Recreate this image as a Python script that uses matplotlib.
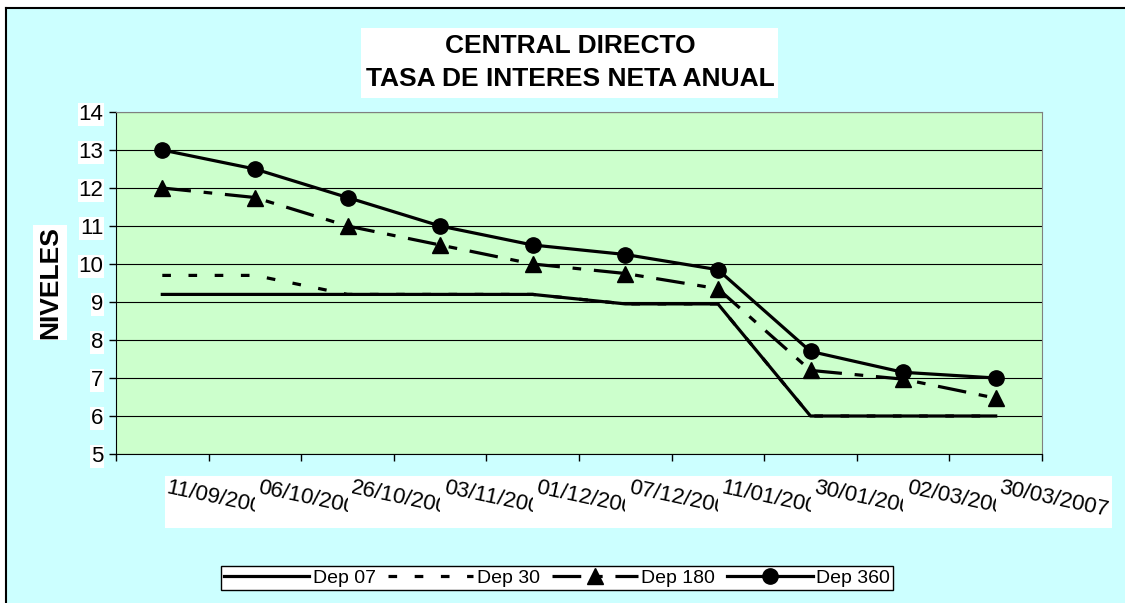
import matplotlib
matplotlib.use("Agg")
import matplotlib.pyplot as plt
import matplotlib.transforms as mtransforms
from matplotlib.patches import Rectangle
from matplotlib.lines import Line2D

plt.rcParams['font.family'] = ['Liberation Sans', 'DejaVu Sans']

# Fechas de las tasas y niveles de cada deposito
fechas = ['11/09/2006', '06/10/2006', '26/10/2006', '03/11/2006', '01/12/2006',
          '07/12/2006', '11/01/2007', '30/01/2007', '02/03/2007', '30/03/2007']
dep_07 = [9.2, 9.2, 9.2, 9.2, 9.2, 8.95, 8.95, 6.0, 6.0, 6.0]
dep_30 = [9.7, 9.7, 9.2, 9.2, 9.2, 8.95, 8.95, 6.0, 6.0, 6.0]
dep_180 = [12.0, 11.75, 11.0, 10.5, 10.0, 9.75, 9.35, 7.2, 6.97, 6.47]
dep_360 = [13.0, 12.5, 11.75, 11.0, 10.5, 10.25, 9.85, 7.7, 7.15, 7.0]

W, H = 1125, 603
fig = plt.figure(figsize=(W / 100, H / 100), dpi=100)
fig.patch.set_facecolor('white')

def fx(px):
    return px / W

def fy(py):
    return 1 - py / H

# fondo celeste con borde arriba e izquierda
fig.patches.append(Rectangle((fx(6), 0), 1, fy(8), transform=fig.transFigure,
                             facecolor='#CCFFFF', edgecolor='none', zorder=-5))
fig.lines.append(Line2D([fx(6), 1], [fy(8), fy(8)], transform=fig.transFigure,
                        color='black', lw=1.5, zorder=-4))
fig.lines.append(Line2D([fx(6), fx(6)], [0, fy(8)], transform=fig.transFigure,
                        color='black', lw=1.5, zorder=-4))

ax = fig.add_axes([fx(116), fy(454), fx(1042 - 116), (454 - 112) / H])
ax.set_facecolor('#CCFFCC')

x = list(range(len(fechas)))
lw = 2.3
ax.plot(x, dep_07, color='black', lw=lw, label='Dep 07', zorder=3)
ax.plot(x, dep_30, color='black', lw=lw, linestyle=(0, (2.7, 5.5)), label='Dep 30', zorder=3)
ax.plot(x, dep_180, color='black', lw=lw, linestyle=(0, (9, 4, 2.7, 4)),
        marker='^', markersize=11, label='Dep 180', zorder=4)
ax.plot(x, dep_360, color='black', lw=lw, marker='o', markersize=11,
        label='Dep 360', zorder=5)

ax.set_xlim(-0.5, len(fechas) - 0.5)
ax.set_ylim(5, 14)
ax.set_yticks(range(5, 15))
ax.yaxis.grid(True, color='black', lw=0.8)
ax.set_axisbelow(True)
ax.set_xticks([i - 0.5 for i in range(len(fechas) + 1)])
ax.set_xticklabels([])
ax.tick_params(axis='x', direction='out', length=5, width=1)
ax.tick_params(axis='y', direction='out', length=5, width=1, labelsize=16, pad=4)
for lab in ax.get_yticklabels():
    lab.set_bbox(dict(facecolor='white', edgecolor='none', pad=0.5))
for s in ['top', 'right']:
    ax.spines[s].set_color('#808080')
for s in ['left', 'bottom']:
    ax.spines[s].set_color('black')

# franja blanca detras de las fechas
fig.patches.append(Rectangle((fx(165), fy(528)), fx(1112 - 165), (528 - 476) / H,
                             transform=fig.transFigure, facecolor='white',
                             edgecolor='none', zorder=1))
blend = mtransforms.blended_transform_factory(ax.transData, fig.transFigure)
shift = mtransforms.ScaledTranslation(0.06, 0, fig.dpi_scale_trans)
for i, f in enumerate(fechas):
    t = fig.text(i, fy(477), f, transform=blend + shift, rotation=-12,
                 rotation_mode='anchor', ha='left', va='top', fontsize=16, zorder=2)
    right = i + 1.0 if i < len(fechas) - 1 else i + 2
    clip = mtransforms.TransformedBbox(
        mtransforms.Bbox.from_extents(i + 0.05, 0, right, 1), blend)
    t.set_clip_box(clip)
    t.set_clip_on(True)

# titulo
fig.patches.append(Rectangle((fx(361), fy(98)), fx(778 - 361), (98 - 28) / H,
                             transform=fig.transFigure, facecolor='white',
                             edgecolor='none', zorder=1))
fig.text(fx(570), fy(46), 'CENTRAL DIRECTO', ha='center', va='center',
         fontsize=19, fontweight='bold', zorder=2)
fig.text(fx(570), fy(79), 'TASA DE INTERES NETA ANUAL', ha='center', va='center',
         fontsize=19, fontweight='bold', zorder=2)

# etiqueta del eje y
fig.patches.append(Rectangle((fx(33), fy(340)), fx(67 - 33), (340 - 225) / H,
                             transform=fig.transFigure, facecolor='white',
                             edgecolor='none', zorder=1))
fig.text(fx(50), fy(283), 'NIVELES', rotation=90, ha='center', va='center',
         fontsize=19, fontweight='bold', zorder=2)

leg = fig.legend(loc='center', bbox_to_anchor=(fx(557), fy(578)), ncol=4,
                 fontsize=14, handlelength=4.4, handletextpad=0.2, columnspacing=0.6,
                 borderpad=0.15, fancybox=False, framealpha=1, edgecolor='black')
leg.get_frame().set_linewidth(1)

fig.savefig('out.png', dpi=100)
